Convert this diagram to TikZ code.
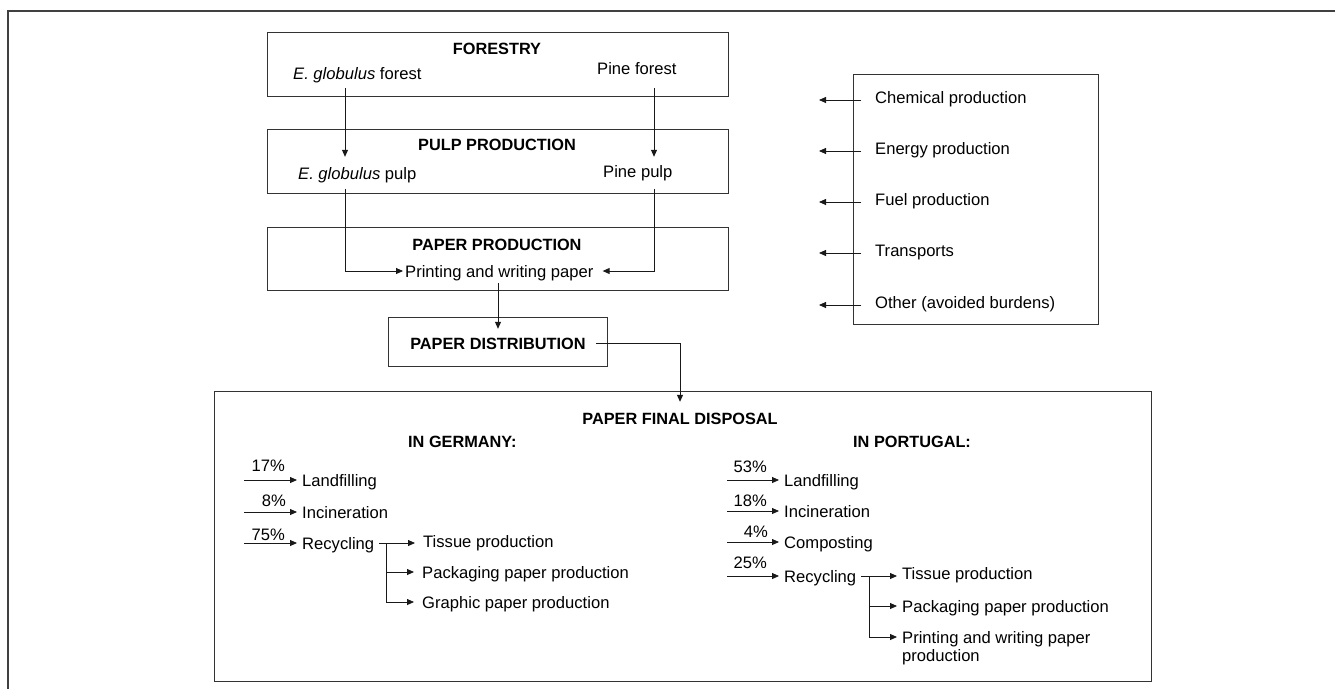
\documentclass[tikz,border=0pt]{standalone}
\usepackage{fontspec}
\setmainfont{Liberation Sans}
\usetikzlibrary{arrows.meta}
\begin{document}
\begin{tikzpicture}[x=1pt,y=-1pt,
  outerline/.style={draw=black!75, line width=1.4pt},
  boxnode/.style={draw=black!80, line width=1.1pt, inner sep=0pt, anchor=north west},
  lbl/.style={inner xsep=0pt, inner ysep=0pt, text height=12pt, text depth=0pt,
    font=\fontsize{16.6}{18}\selectfont, anchor=base west},
  ttl/.style={lbl, font=\fontsize{16.3}{18}\selectfont\bfseries, anchor=base},
  pct/.style={lbl, anchor=base east},
  arr/.style={draw=black!90, line width=0.85pt, -{Triangle[length=7pt,width=6pt]}}
]
\useasboundingbox (0,0) rectangle (1335,689);

% outer frame (top and left edges only)
\draw[outerline] (1335,11) -- (8,11) -- (8,689);

% boxes
\node[boxnode, minimum width=461pt, minimum height=64pt] (bforestry) at (267,32) {};
\node[boxnode, minimum width=461pt, minimum height=64pt] (bpulp) at (267,129) {};
\node[boxnode, minimum width=461pt, minimum height=63pt] (bpaper) at (267,227) {};
\node[boxnode, minimum width=219pt, minimum height=49pt] (bdist) at (388,317) {};
\node[boxnode, minimum width=937pt, minimum height=290pt] (bfinal) at (214,391) {};
\node[boxnode, minimum width=245pt, minimum height=250pt] (bright) at (853,74) {};

% top chain texts
\node[ttl] (tforestry) at (497,54) {FORESTRY};
\node[lbl, inner ysep=9pt] (ef) at (293,79) {\textit{E. globulus} forest};
\node[lbl] (pf) at (597,74) {Pine forest};
\node[ttl] (tpulp) at (497,150) {PULP PRODUCTION};
\node[lbl, inner ysep=10pt] (ep) at (298,179) {\textit{E. globulus} pulp};
\node[lbl] (pp) at (603,177) {Pine pulp};
\node[ttl] (tpaper) at (497,250) {PAPER PRODUCTION};
\node[lbl, inner xsep=2pt, inner ysep=6pt] (pw) at (403,277) {Printing and writing paper};
\node[ttl, inner xsep=10pt, inner ysep=8pt] (tdist) at (498,349) {PAPER DISTRIBUTION};
\node[ttl, inner ysep=10pt] (tfinal) at (680,424) {PAPER FINAL DISPOSAL};

\coordinate (xa) at (345,0);
\coordinate (xb) at (654,0);
\coordinate (xc) at (498,0);

\draw[arr] (xa |- ef.south) -- (xa |- ep.north);
\draw[arr] (xb |- ef.south) -- (xb |- ep.north);
\draw[arr] (xa |- ep.south) |- (pw.west);
\draw[arr] (xb |- ep.south) |- ([xshift=7pt]pw.east);
\draw[arr] (xc |- pw.south) -- (xc |- tdist.north);
\draw[arr] (tdist.east) -| (tfinal.north);

% right list
\node[lbl, inner xsep=14pt, text height=6pt] (r1) at (861,103) {Chemical production};
\node[lbl, inner xsep=14pt, text height=6pt] (r2) at (861,154) {Energy production};
\node[lbl, inner xsep=14pt, text height=6pt] (r3) at (861,205) {Fuel production};
\node[lbl, inner xsep=14pt, text height=6pt] (r4) at (861,256) {Transports};
\node[lbl, inner xsep=14pt, text height=6pt] (r5) at (861,308) {Other (avoided burdens)};
\coordinate (rx) at (819,0);
\foreach \n in {r1,r2,r3,r4,r5}{
  \draw[arr] (\n.west) -- (\n.west -| rx);
}

% Germany
\node[ttl, anchor=base west] (tger) at (408,447) {IN GERMANY:};
\node[lbl, inner xsep=5pt] (gl1) at (297,486) {Landfilling};
\node[lbl, inner xsep=5pt] (gl2) at (297,518) {Incineration};
\node[lbl, inner xsep=5pt] (gl3) at (297,549) {Recycling};
\node[pct] (gp1) at (285,471) {17\%};
\node[pct] (gp2) at (286,506) {8\%};
\node[pct] (gp3) at (285,540) {75\%};
\coordinate (gx) at (244,0);
\draw[arr] (gx |- gl1.west) -- (gl1.west);
\draw[arr] (gx |- gl2.west) -- (gl2.west);
\draw[arr] (gx |- gl3.west) -- (gl3.west);
\node[lbl, inner xsep=8pt] (gb1) at (415,547) {Tissue production};
\node[lbl, inner xsep=8pt] (gb2) at (414,578) {Packaging paper production};
\node[lbl, inner xsep=8pt] (gb3) at (414,608) {Graphic paper production};
\coordinate (gxv) at (386,0);
\draw[arr] (gl3.east) -- (gl3.east -| gb1.west);
\draw[arr] (gxv |- gl3.east) |- (gb3.west);
\draw[arr] (gxv |- gb2.west) -- (gb2.west);

% Portugal
\node[ttl, anchor=base west] (tpor) at (853,447) {IN PORTUGAL:};
\node[lbl, inner xsep=5pt] (pl1) at (779,486) {Landfilling};
\node[lbl, inner xsep=5pt] (pl2) at (779,517) {Incineration};
\node[lbl, inner xsep=5pt] (pl3) at (779,548) {Composting};
\node[lbl, inner xsep=5pt] (pl4) at (779,582) {Recycling};
\node[pct] (pp1) at (767,472) {53\%};
\node[pct] (pp2) at (767,506) {18\%};
\node[pct] (pp3) at (768,537) {4\%};
\node[pct] (pp4) at (767,568) {25\%};
\coordinate (px) at (727,0);
\draw[arr] (px |- pl1.west) -- (pl1.west);
\draw[arr] (px |- pl2.west) -- (pl2.west);
\draw[arr] (px |- pl3.west) -- (pl3.west);
\draw[arr] (px |- pl4.west) -- (pl4.west);
\node[lbl, inner xsep=5pt] (pb1) at (897,579) {Tissue production};
\node[lbl, inner xsep=5pt] (pb2) at (897,612) {Packaging paper production};
\node[lbl, inner xsep=5pt] (pb3) at (897,643) {Printing and writing paper};
\node[lbl] (pb3b) at (902,661) {production};
\coordinate (pxv) at (869,0);
\draw[arr] (pl4.east) -- (pl4.east -| pb1.west);
\draw[arr] (pxv |- pl4.east) |- (pb3.west);
\draw[arr] (pxv |- pb2.west) -- (pb2.west);
\end{tikzpicture}
\end{document}
